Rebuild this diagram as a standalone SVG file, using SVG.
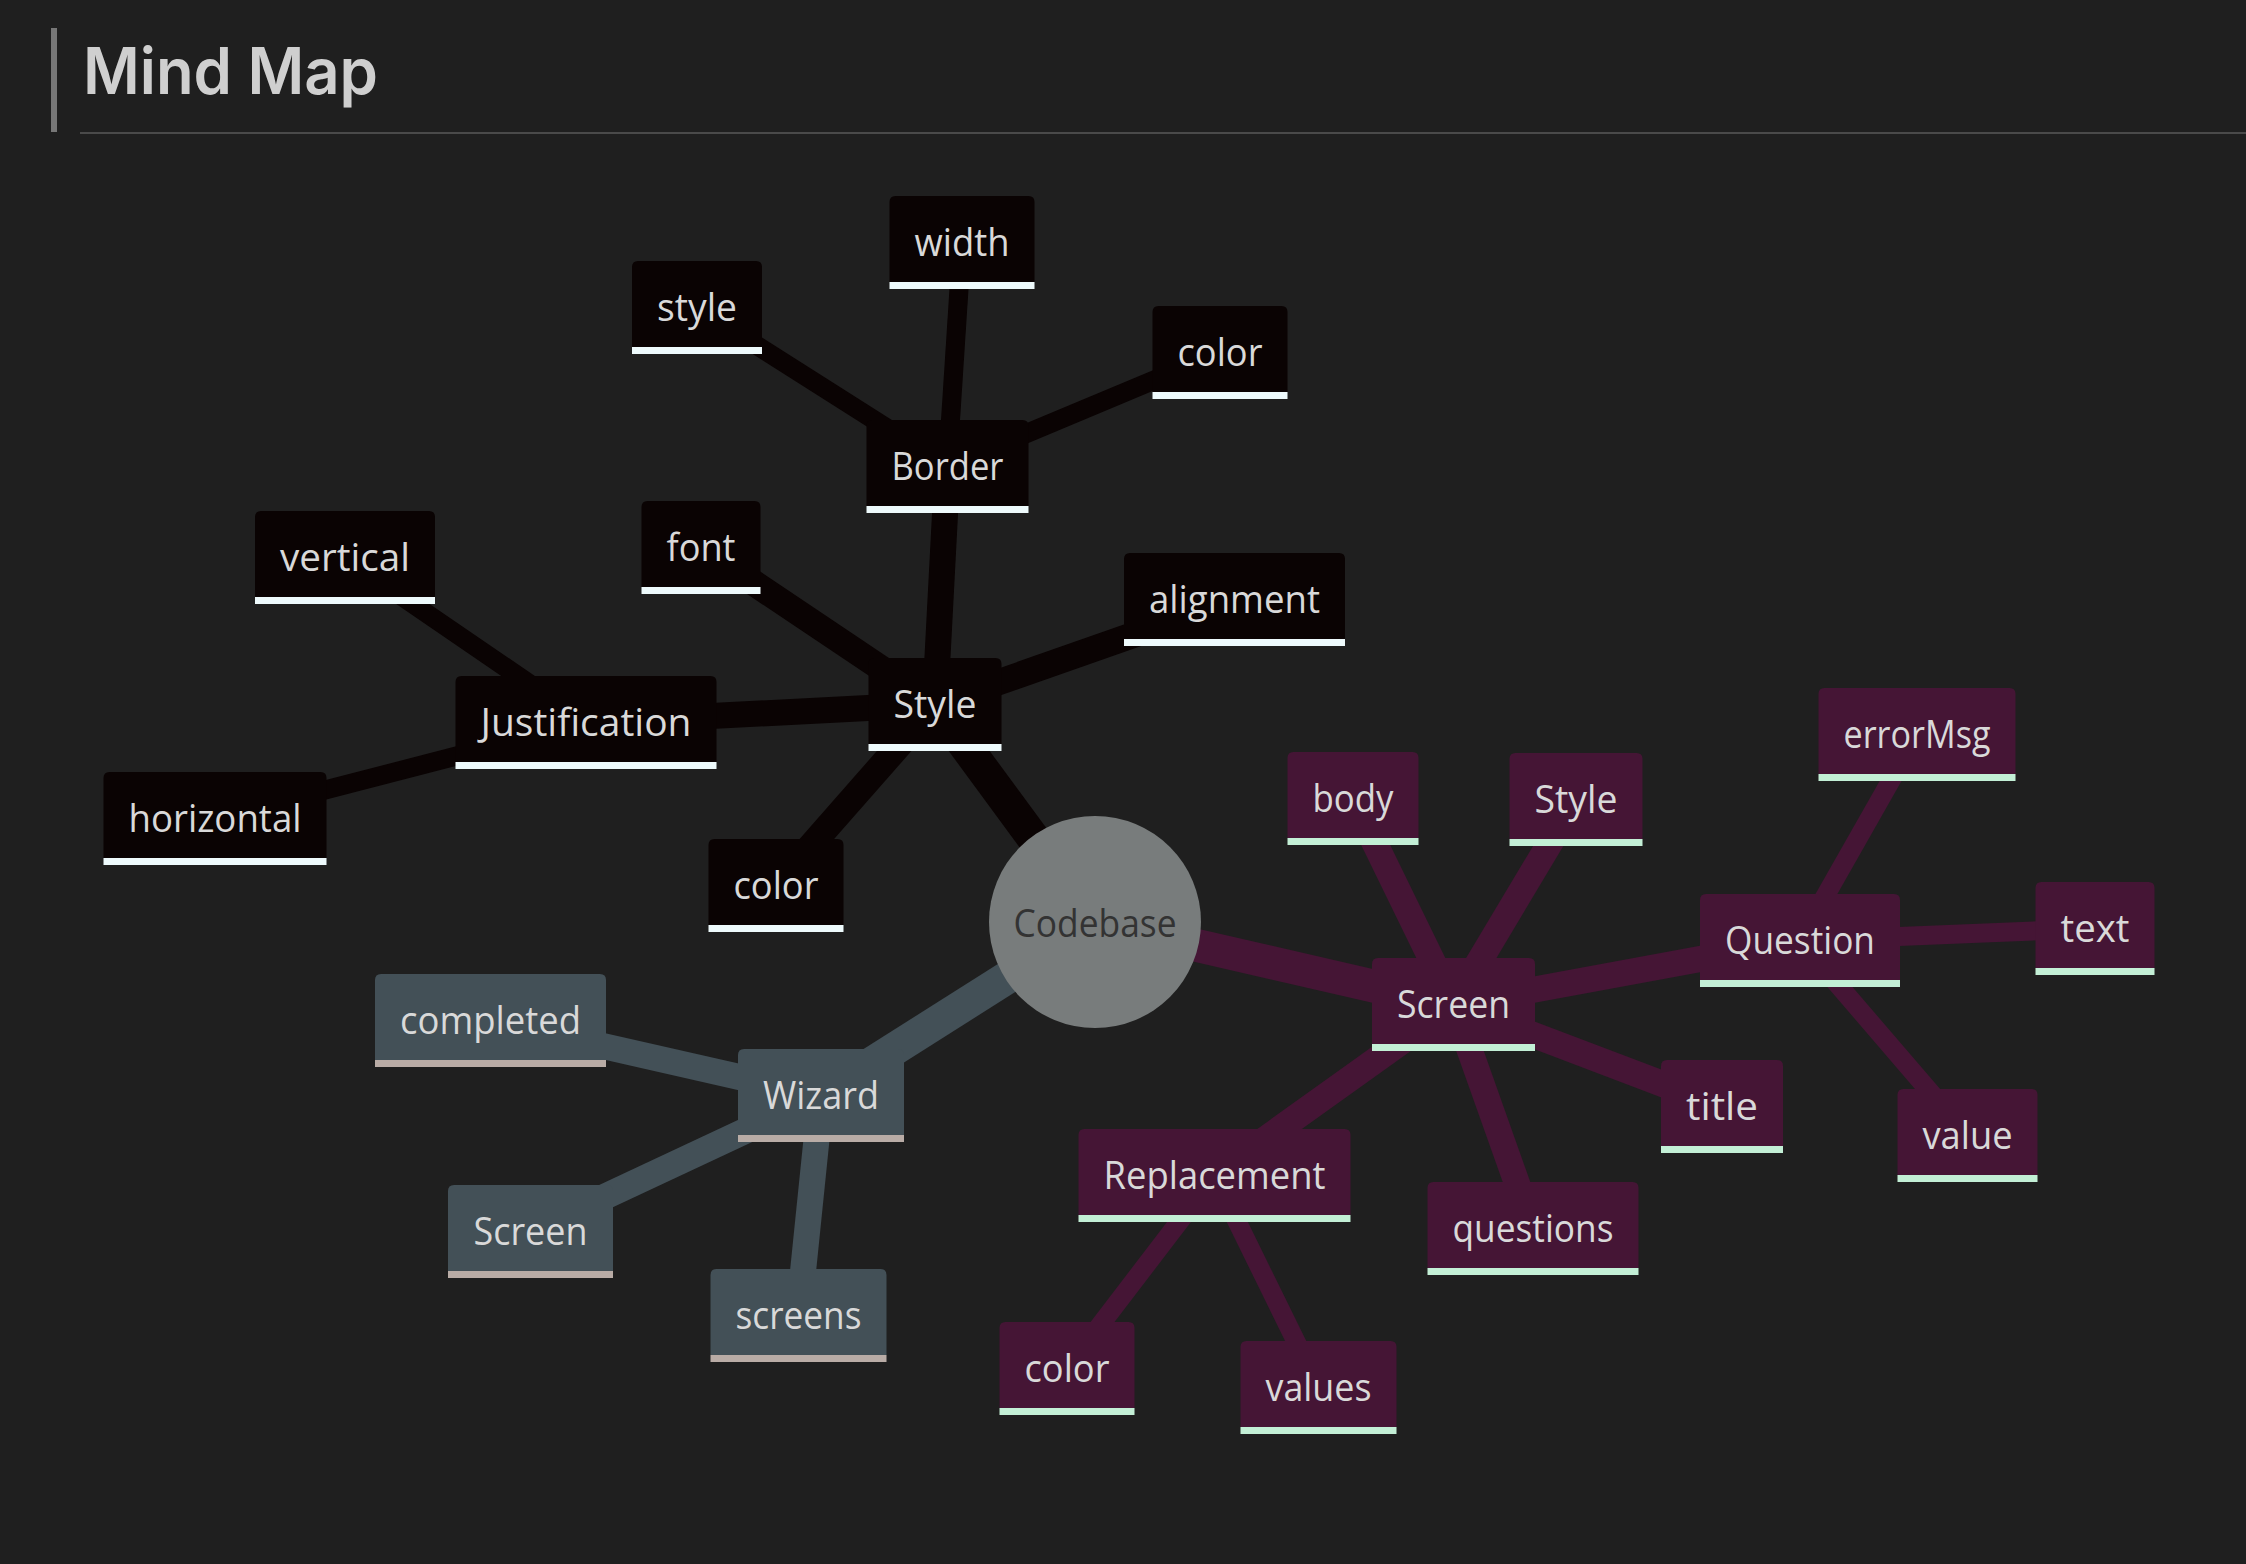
<svg xmlns="http://www.w3.org/2000/svg" width="2246" height="1564" viewBox="0 0 2246 1564">
<style>
.bg{fill:#1f1f1f}
.lbl{font-family:"Open Sans","Noto Sans","Liberation Sans",sans-serif;font-size:38px;fill:#d9d9d9;text-anchor:middle}
.root-lbl{font-family:"Open Sans","Noto Sans","Liberation Sans",sans-serif;font-size:38px;fill:#333333;text-anchor:middle}
.title{font-family:Inter,"Liberation Sans",sans-serif;font-size:64px;font-weight:600;fill:#cfcfcf}
.s0 .box{fill:#0a0303}.s0 .ul{fill:#eefafc}
.s1 .box{fill:#435057}.s1 .ul{fill:#b9aca6}
.s2 .box{fill:#451535}.s2 .ul{fill:#c3efd6}
.e{fill:none;stroke-linecap:butt}
.e0{stroke:#0a0303}.e1{stroke:#435057}.e2{stroke:#451535}
.d0{stroke-width:33}.d1{stroke-width:26}.d2{stroke-width:19}
</style>
<rect class="bg" x="0" y="0" width="2246" height="1564"/>
<g id="header">
<rect x="51" y="28" width="6" height="104" fill="#777777"/>
<rect x="80" y="132" width="2166" height="2" fill="#4a4a4a"/>
<text class="title" x="83" y="94" textLength="295" lengthAdjust="spacingAndGlyphs">Mind Map</text>
</g>
<g id="connectors">
<line class="e e0 d0" x1="1095" y1="922" x2="935" y2="704.5"/>
<line class="e e1 d0" x1="1095" y1="922" x2="821" y2="1095.5"/>
<line class="e e2 d0" x1="1095" y1="922" x2="1453.5" y2="1004.5"/>
<line class="e e0 d1" x1="935" y1="704.5" x2="947.5" y2="466.5"/>
<line class="e e0 d1" x1="935" y1="704.5" x2="701" y2="547.5"/>
<line class="e e0 d1" x1="935" y1="704.5" x2="1234.5" y2="599.5"/>
<line class="e e0 d1" x1="935" y1="704.5" x2="586" y2="722.5"/>
<line class="e e0 d1" x1="935" y1="704.5" x2="776" y2="885.5"/>
<line class="e e1 d1" x1="821" y1="1095.5" x2="490.5" y2="1020.5"/>
<line class="e e1 d1" x1="821" y1="1095.5" x2="530.5" y2="1231.5"/>
<line class="e e1 d1" x1="821" y1="1095.5" x2="798.5" y2="1315.5"/>
<line class="e e2 d1" x1="1453.5" y1="1004.5" x2="1353" y2="798.5"/>
<line class="e e2 d1" x1="1453.5" y1="1004.5" x2="1576" y2="799.5"/>
<line class="e e2 d1" x1="1453.5" y1="1004.5" x2="1800" y2="940.5"/>
<line class="e e2 d1" x1="1453.5" y1="1004.5" x2="1722" y2="1106.5"/>
<line class="e e2 d1" x1="1453.5" y1="1004.5" x2="1533" y2="1228.5"/>
<line class="e e2 d1" x1="1453.5" y1="1004.5" x2="1214.5" y2="1175.5"/>
<line class="e e0 d2" x1="947.5" y1="466.5" x2="962" y2="242.5"/>
<line class="e e0 d2" x1="947.5" y1="466.5" x2="697" y2="307.5"/>
<line class="e e0 d2" x1="947.5" y1="466.5" x2="1220" y2="352.5"/>
<line class="e e0 d2" x1="586" y1="722.5" x2="345" y2="557.5"/>
<line class="e e0 d2" x1="586" y1="722.5" x2="215" y2="818.5"/>
<line class="e e2 d2" x1="1800" y1="940.5" x2="1917" y2="734.5"/>
<line class="e e2 d2" x1="1800" y1="940.5" x2="2095" y2="928.5"/>
<line class="e e2 d2" x1="1800" y1="940.5" x2="1967.5" y2="1135.5"/>
<line class="e e2 d2" x1="1214.5" y1="1175.5" x2="1067" y2="1368.5"/>
<line class="e e2 d2" x1="1214.5" y1="1175.5" x2="1318.5" y2="1387.5"/>
</g>
<g id="root">
<circle cx="1095" cy="922" r="106" fill="#787c7c"/>
<text class="root-lbl" x="1095" y="937" textLength="163" lengthAdjust="spacingAndGlyphs">Codebase</text>
</g>
<g id="n-width" class="s0" transform="translate(889.5,196)"><path class="box" d="M0 86V6Q0 0 6 0H139Q145 0 145 6V86Z"/><rect class="ul" x="0" y="86" width="145" height="7"/><text class="lbl" x="72.5" y="59.5" textLength="95" lengthAdjust="spacingAndGlyphs">width</text></g>
<g id="n-border-style" class="s0" transform="translate(632,261)"><path class="box" d="M0 86V6Q0 0 6 0H124Q130 0 130 6V86Z"/><rect class="ul" x="0" y="86" width="130" height="7"/><text class="lbl" x="65" y="59.5" textLength="80" lengthAdjust="spacingAndGlyphs">style</text></g>
<g id="n-border-color" class="s0" transform="translate(1152.5,306)"><path class="box" d="M0 86V6Q0 0 6 0H129Q135 0 135 6V86Z"/><rect class="ul" x="0" y="86" width="135" height="7"/><text class="lbl" x="67.5" y="59.5" textLength="85" lengthAdjust="spacingAndGlyphs">color</text></g>
<g id="n-border" class="s0" transform="translate(866.5,420)"><path class="box" d="M0 86V6Q0 0 6 0H156Q162 0 162 6V86Z"/><rect class="ul" x="0" y="86" width="162" height="7"/><text class="lbl" x="81" y="59.5" textLength="112" lengthAdjust="spacingAndGlyphs">Border</text></g>
<g id="n-font" class="s0" transform="translate(641.5,501)"><path class="box" d="M0 86V6Q0 0 6 0H113Q119 0 119 6V86Z"/><rect class="ul" x="0" y="86" width="119" height="7"/><text class="lbl" x="59.5" y="59.5" textLength="69" lengthAdjust="spacingAndGlyphs">font</text></g>
<g id="n-alignment" class="s0" transform="translate(1124,553)"><path class="box" d="M0 86V6Q0 0 6 0H215Q221 0 221 6V86Z"/><rect class="ul" x="0" y="86" width="221" height="7"/><text class="lbl" x="110.5" y="59.5" textLength="171" lengthAdjust="spacingAndGlyphs">alignment</text></g>
<g id="n-style" class="s0" transform="translate(868.5,658)"><path class="box" d="M0 86V6Q0 0 6 0H127Q133 0 133 6V86Z"/><rect class="ul" x="0" y="86" width="133" height="7"/><text class="lbl" x="66.5" y="59.5" textLength="83" lengthAdjust="spacingAndGlyphs">Style</text></g>
<g id="n-vertical" class="s0" transform="translate(255,511)"><path class="box" d="M0 86V6Q0 0 6 0H174Q180 0 180 6V86Z"/><rect class="ul" x="0" y="86" width="180" height="7"/><text class="lbl" x="90" y="59.5" textLength="130" lengthAdjust="spacingAndGlyphs">vertical</text></g>
<g id="n-justification" class="s0" transform="translate(455.5,676)"><path class="box" d="M0 86V6Q0 0 6 0H255Q261 0 261 6V86Z"/><rect class="ul" x="0" y="86" width="261" height="7"/><text class="lbl" x="130.5" y="59.5" textLength="211" lengthAdjust="spacingAndGlyphs">Justification</text></g>
<g id="n-horizontal" class="s0" transform="translate(103.5,772)"><path class="box" d="M0 86V6Q0 0 6 0H217Q223 0 223 6V86Z"/><rect class="ul" x="0" y="86" width="223" height="7"/><text class="lbl" x="111.5" y="59.5" textLength="173" lengthAdjust="spacingAndGlyphs">horizontal</text></g>
<g id="n-style-color" class="s0" transform="translate(708.5,839)"><path class="box" d="M0 86V6Q0 0 6 0H129Q135 0 135 6V86Z"/><rect class="ul" x="0" y="86" width="135" height="7"/><text class="lbl" x="67.5" y="59.5" textLength="85" lengthAdjust="spacingAndGlyphs">color</text></g>
<g id="n-completed" class="s1" transform="translate(375,974)"><path class="box" d="M0 86V6Q0 0 6 0H225Q231 0 231 6V86Z"/><rect class="ul" x="0" y="86" width="231" height="7"/><text class="lbl" x="115.5" y="59.5" textLength="181" lengthAdjust="spacingAndGlyphs">completed</text></g>
<g id="n-wizard" class="s1" transform="translate(738,1049)"><path class="box" d="M0 86V6Q0 0 6 0H160Q166 0 166 6V86Z"/><rect class="ul" x="0" y="86" width="166" height="7"/><text class="lbl" x="83" y="59.5" textLength="116" lengthAdjust="spacingAndGlyphs">Wizard</text></g>
<g id="n-wizard-screen" class="s1" transform="translate(448,1185)"><path class="box" d="M0 86V6Q0 0 6 0H159Q165 0 165 6V86Z"/><rect class="ul" x="0" y="86" width="165" height="7"/><text class="lbl" x="82.5" y="59.5" textLength="114" lengthAdjust="spacingAndGlyphs">Screen</text></g>
<g id="n-screens" class="s1" transform="translate(710.5,1269)"><path class="box" d="M0 86V6Q0 0 6 0H170Q176 0 176 6V86Z"/><rect class="ul" x="0" y="86" width="176" height="7"/><text class="lbl" x="88" y="59.5" textLength="126" lengthAdjust="spacingAndGlyphs">screens</text></g>
<g id="n-body" class="s2" transform="translate(1287.5,752)"><path class="box" d="M0 86V6Q0 0 6 0H125Q131 0 131 6V86Z"/><rect class="ul" x="0" y="86" width="131" height="7"/><text class="lbl" x="65.5" y="59.5" textLength="81" lengthAdjust="spacingAndGlyphs">body</text></g>
<g id="n-screen-style" class="s2" transform="translate(1509.5,753)"><path class="box" d="M0 86V6Q0 0 6 0H127Q133 0 133 6V86Z"/><rect class="ul" x="0" y="86" width="133" height="7"/><text class="lbl" x="66.5" y="59.5" textLength="83" lengthAdjust="spacingAndGlyphs">Style</text></g>
<g id="n-errormsg" class="s2" transform="translate(1818.5,688)"><path class="box" d="M0 86V6Q0 0 6 0H191Q197 0 197 6V86Z"/><rect class="ul" x="0" y="86" width="197" height="7"/><text class="lbl" x="98.5" y="59.5" textLength="147" lengthAdjust="spacingAndGlyphs">errorMsg</text></g>
<g id="n-question" class="s2" transform="translate(1700,894)"><path class="box" d="M0 86V6Q0 0 6 0H194Q200 0 200 6V86Z"/><rect class="ul" x="0" y="86" width="200" height="7"/><text class="lbl" x="100" y="59.5" textLength="150" lengthAdjust="spacingAndGlyphs">Question</text></g>
<g id="n-text" class="s2" transform="translate(2035.5,882)"><path class="box" d="M0 86V6Q0 0 6 0H113Q119 0 119 6V86Z"/><rect class="ul" x="0" y="86" width="119" height="7"/><text class="lbl" x="59.5" y="59.5" textLength="69" lengthAdjust="spacingAndGlyphs">text</text></g>
<g id="n-screen" class="s2" transform="translate(1372,958)"><path class="box" d="M0 86V6Q0 0 6 0H157Q163 0 163 6V86Z"/><rect class="ul" x="0" y="86" width="163" height="7"/><text class="lbl" x="81.5" y="59.5" textLength="113" lengthAdjust="spacingAndGlyphs">Screen</text></g>
<g id="n-title" class="s2" transform="translate(1661,1060)"><path class="box" d="M0 86V6Q0 0 6 0H116Q122 0 122 6V86Z"/><rect class="ul" x="0" y="86" width="122" height="7"/><text class="lbl" x="61" y="59.5" textLength="72" lengthAdjust="spacingAndGlyphs">title</text></g>
<g id="n-value" class="s2" transform="translate(1897.5,1089)"><path class="box" d="M0 86V6Q0 0 6 0H134Q140 0 140 6V86Z"/><rect class="ul" x="0" y="86" width="140" height="7"/><text class="lbl" x="70" y="59.5" textLength="90" lengthAdjust="spacingAndGlyphs">value</text></g>
<g id="n-replacement" class="s2" transform="translate(1078.5,1129)"><path class="box" d="M0 86V6Q0 0 6 0H266Q272 0 272 6V86Z"/><rect class="ul" x="0" y="86" width="272" height="7"/><text class="lbl" x="136" y="59.5" textLength="222" lengthAdjust="spacingAndGlyphs">Replacement</text></g>
<g id="n-questions" class="s2" transform="translate(1427.5,1182)"><path class="box" d="M0 86V6Q0 0 6 0H205Q211 0 211 6V86Z"/><rect class="ul" x="0" y="86" width="211" height="7"/><text class="lbl" x="105.5" y="59.5" textLength="161" lengthAdjust="spacingAndGlyphs">questions</text></g>
<g id="n-replacement-color" class="s2" transform="translate(999.5,1322)"><path class="box" d="M0 86V6Q0 0 6 0H129Q135 0 135 6V86Z"/><rect class="ul" x="0" y="86" width="135" height="7"/><text class="lbl" x="67.5" y="59.5" textLength="85" lengthAdjust="spacingAndGlyphs">color</text></g>
<g id="n-values" class="s2" transform="translate(1240.5,1341)"><path class="box" d="M0 86V6Q0 0 6 0H150Q156 0 156 6V86Z"/><rect class="ul" x="0" y="86" width="156" height="7"/><text class="lbl" x="78" y="59.5" textLength="106" lengthAdjust="spacingAndGlyphs">values</text></g>
</svg>
